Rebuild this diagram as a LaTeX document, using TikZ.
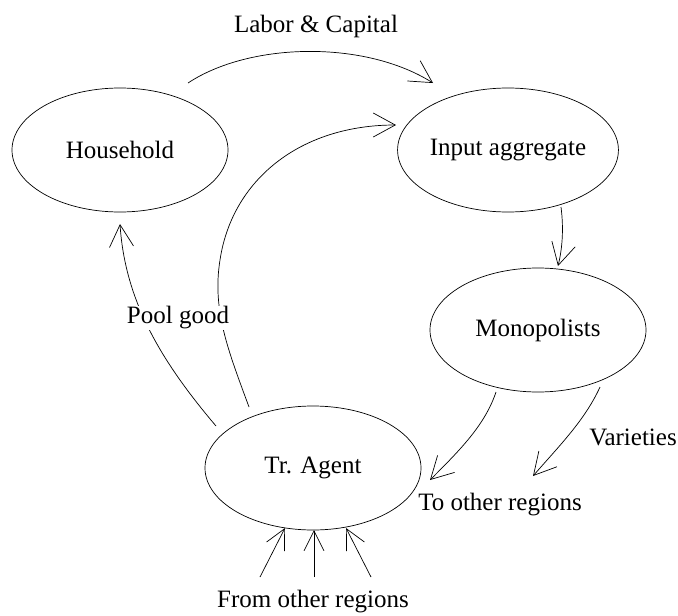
\documentclass[tikz,border=0pt]{standalone}
\usepackage{fontspec}
\setmainfont{Liberation Serif}
\usetikzlibrary{shapes.geometric,arrows.meta,calc}
\begin{document}
\begin{tikzpicture}[x=1pt,y=-1pt,
  every node/.style={font=\fontsize{25}{30}\selectfont},
  agent/.style={draw,ellipse,minimum width=216pt,minimum height=124pt,inner sep=0pt,line width=0.7pt},
  flow/.style={line width=0.7pt,-{Straight Barb[length=22pt,width=24pt,line width=0.7pt]}},
  small/.style={line width=0.7pt,-{Straight Barb[length=20pt,width=20pt,line width=0.7pt]}},
  lbl/.style={inner sep=1pt}]
\useasboundingbox (0,0) rectangle (678,616);
\node[agent] (hh) at (120,150) {Household};
\node[agent] (ia) at (508,150) {Input aggregate};
\node[agent] (mo) at (538,330) {Monopolists};
\node[agent] (ta) at (313,468) {Tr. Agent};
\coordinate (f1) at (260,577);
\coordinate (f2) at (314,577);
\coordinate (f3) at (371,577);
\coordinate (vo) at (533,476);
% Labor & Capital
\draw[flow] ($(hh)+(68,-67)$) .. controls (250,42) and (365,40) .. ($(ia)+(-75,-67)$);
% Tr. Agent -> Input aggregate
\draw[flow] ($(ta)+(-64,-61)$) .. controls (228,350) and (212,310) .. (220,260)
   .. controls (232,180) and (300,125) .. ($(ia)+(-112,-25)$);
% Tr. Agent -> Household
\draw[flow] ($(ta)+(-97,-42)$) .. controls (160,360) and (125,300) .. ($(hh)+(0,74)$);
% Input aggregate -> Monopolists
\draw[flow] ($(ia)+(53,57)$) .. controls (564,230) and (562,250) .. ($(mo)+(20,-64)$);
% Monopolists -> Tr. Agent
\draw[flow] ($(mo)+(-42,62)$) .. controls (485,425) and (460,450) .. ($(ta)+(117,12)$);
% Monopolists -> other regions
\draw[flow] ($(mo)+(62,57)$) .. controls (585,420) and (560,445) .. (vo);
% From other regions
\draw[small] (f1) -- ($(ta)+(-28,60)$);
\draw[small] (f2) -- ($(ta)+(1,62)$);
\draw[small] (f3) -- ($(ta)+(33,60)$);
% labels
\node[lbl] (lc) at (316,26) {Labor \& Capital};
\node[lbl,fill=white] (pg) at (178,318) {Pool good};
\node[lbl] (va) at (633,437) {Varieties};
\node[lbl] (to) at (500,505) {To other regions};
\node[lbl] (fr) at (313,602) {From other regions};
\end{tikzpicture}
\end{document}
